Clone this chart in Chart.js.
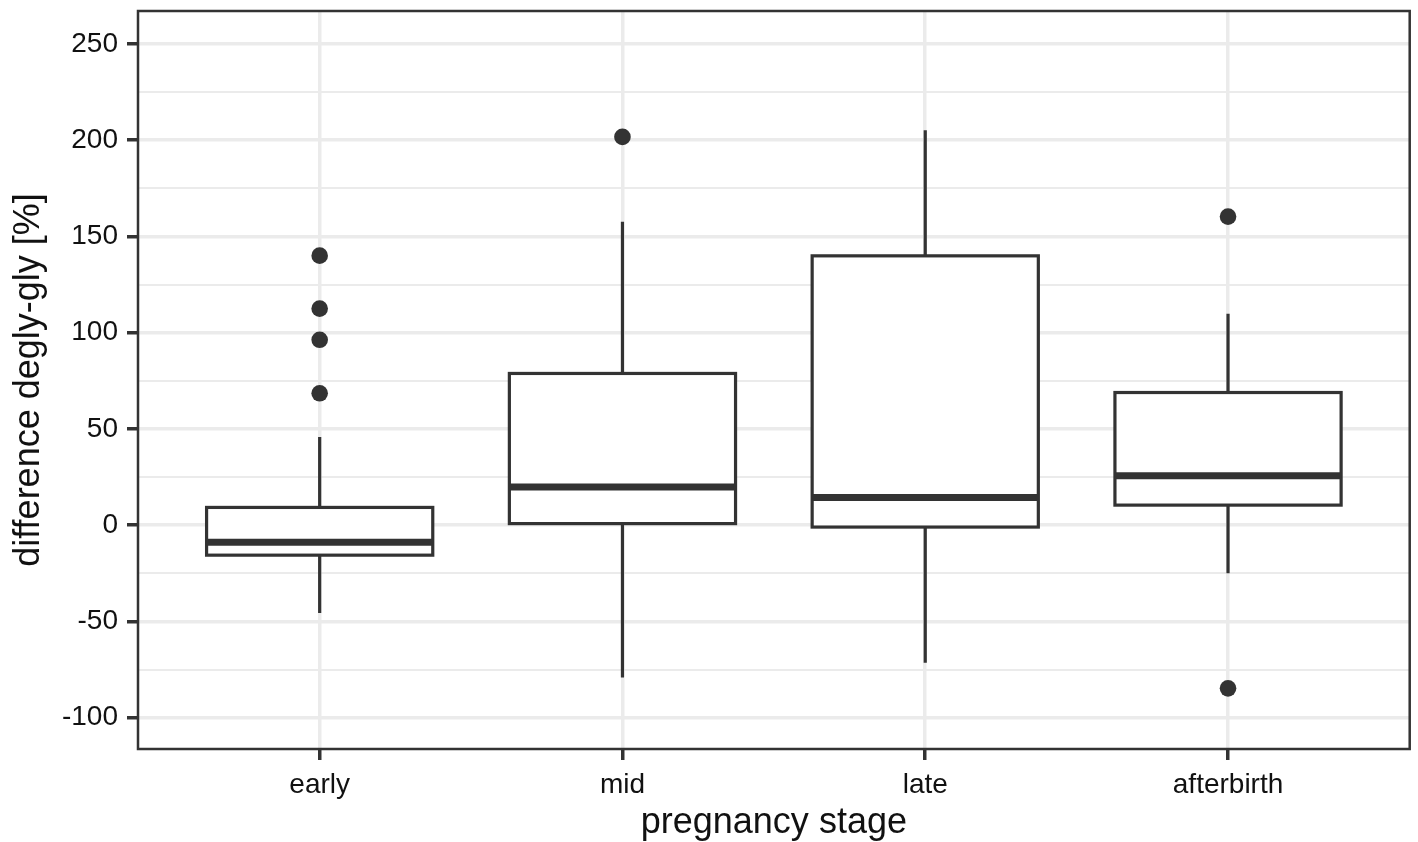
<!DOCTYPE html>
<html>
<head>
<meta charset="utf-8">
<script src="https://cdn.jsdelivr.net/npm/chart.js@4.4.1/dist/chart.umd.min.js"></script>
<style>
html,body{margin:0;padding:0;background:#fff}
#wrap{width:1418px;height:842px}
</style>
</head>
<body>
<div id="wrap"><canvas id="ch"></canvas></div>
<script>
/* box plot data */
const stages=['early','mid','late','afterbirth'];
const q1=[-15.6,0.8,-1,10.4];
const median=[-8.9,19.8,14.3,25.6];
const q3=[9.2,78.8,139.9,68.9];
const whiskerLow=[-45.6,-79.2,-71.5,-25];
const whiskerHigh=[45.8,157.6,205.2,109.8];
const outliers=[[140,112.5,96.3,68.5],[201.7],[],[160.3,-84.8]];
const yMajor=[-100,-50,0,50,100,150,200,250];

const INK='#333333', GRID='#ebebeb', TXT='#111111';
const FONT='"Liberation Sans", Arial, sans-serif';

const boxData=stages.map((s,i)=>({x:i,y:[q1[i],q3[i]]}));
const outlierData=[];
outliers.forEach((arr,i)=>arr.forEach(v=>outlierData.push({x:i,y:v})));

const isMajor=v=>yMajor.includes(v);

// whiskers, box outlines, medians and the panel frame, placed through the chart scales
const boxParts={
    id:'boxParts',
    beforeDatasetsDraw(chart){
        const {ctx,scales:{x,y}}=chart;
        ctx.save();
        ctx.strokeStyle=INK; ctx.lineWidth=3.2; ctx.lineCap='butt';
        stages.forEach((s,i)=>{
            const px=x.getPixelForValue(i);
            ctx.beginPath();
            ctx.moveTo(px,y.getPixelForValue(q3[i])); ctx.lineTo(px,y.getPixelForValue(whiskerHigh[i]));
            ctx.moveTo(px,y.getPixelForValue(q1[i])); ctx.lineTo(px,y.getPixelForValue(whiskerLow[i]));
            ctx.stroke();
        });
        ctx.restore();
    },
    afterDatasetsDraw(chart){
        const {ctx,chartArea:a,scales:{y}}=chart;
        const meta=chart.getDatasetMeta(0);
        ctx.save();
        ctx.strokeStyle=INK; ctx.lineJoin='miter';
        meta.data.forEach((el,i)=>{
            const l=el.x-el.width/2, top=y.getPixelForValue(q3[i]), bot=y.getPixelForValue(q1[i]);
            ctx.lineWidth=3.2;
            ctx.strokeRect(l,top,el.width,bot-top);
            const py=y.getPixelForValue(median[i]);
            ctx.lineWidth=7;
            ctx.beginPath();
            ctx.moveTo(l,py); ctx.lineTo(l+el.width,py);
            ctx.stroke();
        });
        ctx.lineWidth=2.5;
        ctx.strokeRect(a.left,a.top,a.right-a.left,a.bottom-a.top);
        ctx.restore();
    }
};

new Chart(document.getElementById('ch').getContext('2d'),{
    type:'bar',
    data:{
        datasets:[
            {type:'bar',data:boxData,backgroundColor:'#ffffff',borderWidth:0,
             barPercentage:0.747,categoryPercentage:1,order:2},
            {type:'scatter',data:outlierData,pointRadius:8.3,pointHoverRadius:8.3,backgroundColor:INK,borderWidth:0,order:1}
        ]
    },
    options:{
        responsive:true,maintainAspectRatio:false,animation:false,
        layout:{padding:{top:11,right:8,left:0,bottom:0}},
        plugins:{legend:{display:false},tooltip:{enabled:false}},
        scales:{
            x:{
                type:'linear',min:-0.6,max:3.6,offset:false,
                afterBuildTicks:s=>{s.ticks=stages.map((_,i)=>({value:i}));},
                afterFit:s=>{s.height=93;s.paddingLeft=0;s.paddingRight=0;},
                ticks:{callback:v=>stages[v]??'',color:TXT,font:{size:28,family:FONT},padding:8,maxRotation:0,minRotation:0,autoSkip:false},
                grid:{offset:false,color:GRID,lineWidth:3.5,tickColor:INK,tickWidth:3.5,tickLength:11},
                border:{display:false},
                title:{display:true,text:'pregnancy stage',color:TXT,font:{size:36,family:FONT,lineHeight:1},padding:{top:0,bottom:1}}
            },
            y:{
                min:-116.3,max:267.1,
                afterBuildTicks:s=>{const t=[];for(let v=-100;v<=250;v+=25)t.push({value:v});s.ticks=t;},
                afterFit:s=>{s.width=138;s.paddingTop=0;s.paddingBottom=0;},
                ticks:{callback:v=>isMajor(v)?String(v):'',color:TXT,font:{size:28,family:FONT},padding:9},
                grid:{
                    color:GRID,
                    lineWidth:c=>c.tick&&isMajor(c.tick.value)?3.5:2,
                    tickColor:c=>c.tick&&isMajor(c.tick.value)?INK:'rgba(0,0,0,0)',
                    tickWidth:3.5,tickLength:11
                },
                border:{display:false},
                title:{display:true,text:'difference degly-gly [%]',color:TXT,font:{size:36,family:FONT,lineHeight:1},padding:{top:11,bottom:0}}
            }
        }
    },
    plugins:[boxParts]
});
</script>
</body>
</html>
